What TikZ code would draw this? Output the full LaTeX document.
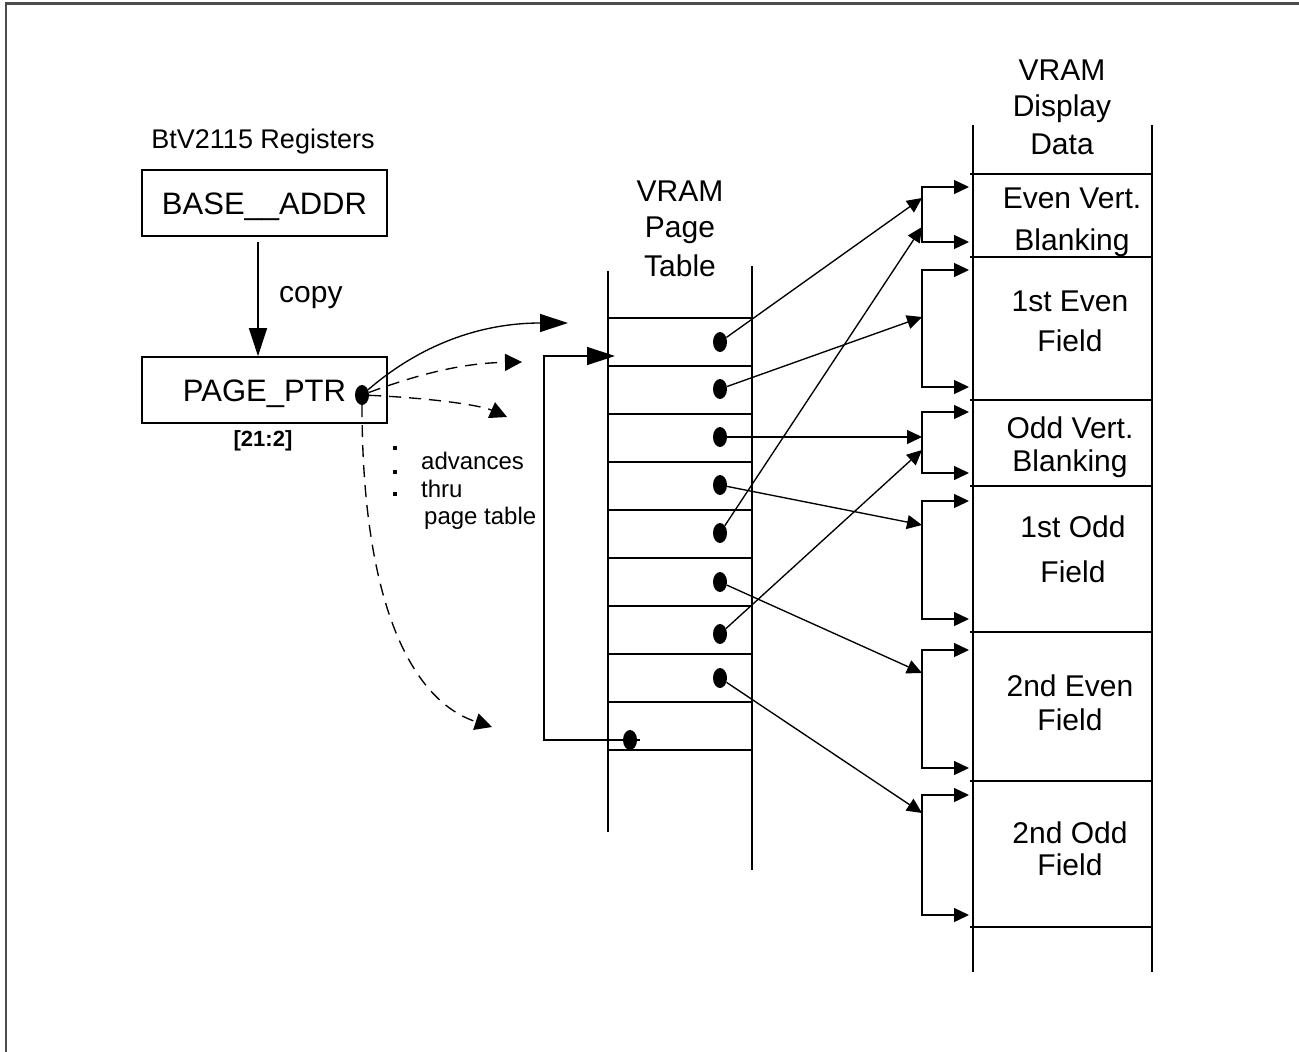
\documentclass[tikz,border=0pt]{standalone}
\usepackage{fontspec}
\setmainfont{Liberation Sans}
\usetikzlibrary{arrows.meta,shapes.geometric}
\begin{document}
\begin{tikzpicture}[x=1pt,y=-1pt,
  ln/.style={line width=1.7pt},
  thinln/.style={line width=1.35pt},
  bigtip/.style={-{Triangle[length=28pt,width=18pt]}},
  smtip/.style={-{Triangle[length=15pt,width=14pt]}},
  brtips/.style={{Triangle[length=15pt,width=14pt]}-{Triangle[length=15pt,width=14pt]}},
  dtip/.style={-{Triangle[length=17pt,width=17pt]}},
  dashline/.style={dash pattern=on 12pt off 8pt},
  regbox/.style={draw, line width=1.7pt, minimum width=245pt, minimum height=66pt, inner sep=0pt,
    font=\fontsize{31}{36}\selectfont, text height=22pt, text depth=0pt},
  pdot/.style={ellipse, fill=black, minimum width=14pt, minimum height=20pt, inner sep=0pt},
  txt/.style={font=\fontsize{30}{36}\selectfont, inner sep=0pt, align=center, anchor=north},
]
\useasboundingbox (0,0) rectangle (1299,1052);
% outer frame (top and left edges visible)
\draw[line width=2.5pt, black!70] (6,1052) -- (6,3.5) -- (1299,3.5);

% ---------------- registers ----------------
\node[font=\fontsize{27}{32}\selectfont, anchor=base, inner sep=0pt] (regs) at (263,148) {BtV2115 Registers};
\node[regbox] (base) at (264.5,203) {BASE\_\_ADDR};
\node[regbox] (page) at (264.5,390) {PAGE\_PTR};
\node[font=\fontsize{30}{36}\selectfont, anchor=base west, inner sep=0pt] (copy) at (279,302) {copy};
\node[font=\fontsize{22}{26}\selectfont\bfseries, inner sep=0pt] (bits) at (263,441) {[21:2]};
\draw[ln,bigtip] ([shift={(-6.5pt,-5pt)}]base.south) -- ([xshift=-6.5pt]page.north);

\node[pdot] (pp) at (362,395) {};

% ---------------- page table ----------------
\node[txt] (ptl) at (680,180.5) {VRAM\\Page\\[3pt]Table};
\draw[ln] (608,271) -- (608,832);
\draw[ln] (752,266) -- (752,870);
\foreach \k in {0,...,9} {
  \draw[ln] (608,318+48*\k) -- (752,318+48*\k);
}
\node[pdot] (d1) at (720,342) {};
\node[pdot] (d2) at (720,389) {};
\node[pdot] (d3) at (720,437) {};
\node[pdot] (d4) at (720,485) {};
\node[pdot] (d5) at (720,533) {};
\node[pdot] (d6) at (720,582) {};
\node[pdot] (d7) at (720,634) {};
\node[pdot] (d8) at (720,678) {};
\node[pdot] (pd) at (630,740) {};

% ---------------- pointer arrows ----------------
\coordinate (c1) at (568,323);
\coordinate (c2) at (522,362);
\coordinate (c3) at (507,417);
\coordinate (c4) at (492,727);
\draw[thinln,bigtip] (pp) .. controls (420,345) and (480,323) .. (c1);
\draw[thinln,dashline,dtip] (pp) .. controls (430,370) and (470,363) .. (c2);
\draw[thinln,dashline,dtip] (pp) .. controls (430,398) and (480,405) .. (c3);
\draw[thinln,dashline,dtip] (pp) .. controls (362,600) and (410,700) .. (c4);

\fill (393,446) rectangle (397,450);
\fill (393,470) rectangle (397,474);
\fill (393,492) rectangle (397,496);
\node[font=\fontsize{24}{27.5}\selectfont, align=left, anchor=north west, inner sep=0pt] (adv) at (421,452)
  {advances\\thru\\\hspace*{3pt}page table};

% loop back from last entry
\coordinate (lc) at (544,740);
\coordinate (lin) at (615,356);
\draw[thinln,bigtip] ([xshift=3pt]pd.east) -- (lc) |- (lin);

% ---------------- display data ----------------
\node[txt] (ddl) at (1062,59.5) {VRAM\\Display\\[2pt]Data};
\draw[ln] (973,125) -- (973,972);
\draw[ln] (1152,125) -- (1152,972);
\foreach \yy in {174,257,400,486,632,781,927} {
  \draw[ln] (970,\yy) -- (1152,\yy);
}
\node[txt] (evb) at (1072,188) {Even Vert.\\[6pt]Blanking};
\node[txt] (f1e) at (1070,291) {1st Even\\[4pt]Field};
\node[txt] (ovb) at (1070,416.5) {Odd Vert.\\[-3pt]Blanking};
\node[txt] (f1o) at (1073,515.5) {1st Odd\\[9pt]Field};
\node[txt] (f2e) at (1070,675) {2nd Even\\[-2pt]Field};
\node[txt] (f2o) at (1070,822) {2nd Odd\\[-4pt]Field};

% brackets
\foreach \n/\ya/\yb in {1/187/242, 2/270/387, 3/412/473, 4/501/619, 5/650/768, 6/795/915} {
  \coordinate (b\n t) at (922,\ya);
  \coordinate (b\n b) at (922,\yb);
  \draw[thinln,brtips] ([xshift=47pt]b\n t) -- (b\n t) -- (b\n b) -- ([xshift=47pt]b\n b);
}
% landing points
\coordinate (a1) at (922,198);
\coordinate (a1b) at (922,227);
\coordinate (a2) at (922,317);
\coordinate (a3) at (922,437);
\coordinate (a3b) at (922,450);
\coordinate (a4) at (922,525);
\coordinate (a5) at (922,673);
\coordinate (a6) at (922,813);
\draw[thinln,smtip] (d1) -- (a1);
\draw[thinln,smtip] (d5) -- (a1b);
\draw[thinln,smtip] (d2) -- (a2);
\draw[thinln,smtip] (d3) -- (a3);
\draw[thinln,smtip] (d7) -- (a3b);
\draw[thinln,smtip] (d4) -- (a4);
\draw[thinln,smtip] (d6) -- (a5);
\draw[thinln,smtip] (d8) -- (a6);
\end{tikzpicture}
\end{document}
